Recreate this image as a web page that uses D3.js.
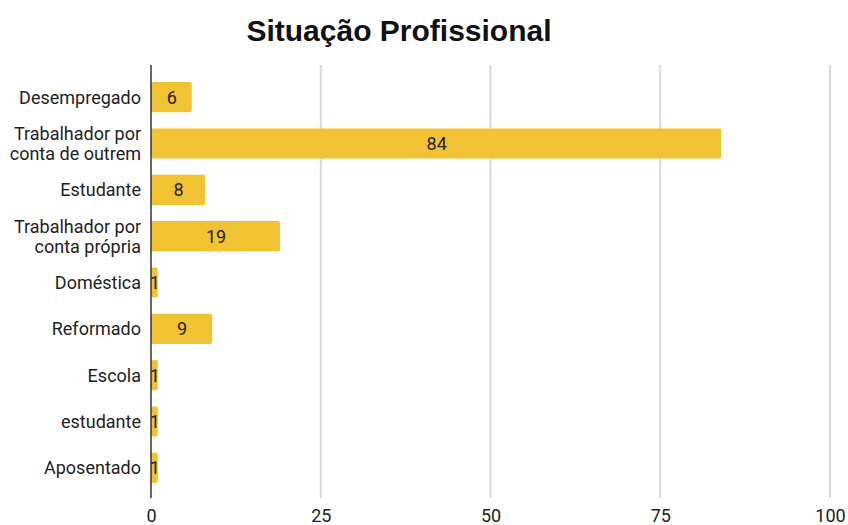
<!DOCTYPE html>
<html>
<head>
<meta charset="utf-8">
<script src="https://cdn.jsdelivr.net/npm/d3@7"></script>
<style>
  body { margin: 0; background: #fff; }
  text { font-family: Roboto, "Liberation Sans", sans-serif; }
</style>
</head>
<body>
<svg id="chart" width="848" height="525"></svg>
<script>
const categories = [
    ["Desempregado"],
    ["Trabalhador por", "conta de outrem"],
    ["Estudante"],
    ["Trabalhador por", "conta própria"],
    ["Doméstica"],
    ["Reformado"],
    ["Escola"],
    ["estudante"],
    ["Aposentado"]
];
const values = [6, 84, 8, 19, 1, 9, 1, 1, 1];
const xTicks = [0, 25, 50, 75, 100];

const svg = d3.select("#chart");
const keys = categories.map(c => c.join(" "));

const x = d3.scaleLinear().domain([0, 100]).range([151, 830]);
const y = d3.scaleBand().domain(keys).range([74, 491]).paddingInner(0.35).paddingOuter(0.175);

svg.append("text")
    .attr("x", 399).attr("y", 41)
    .attr("text-anchor", "middle")
    .style("font-family", "'Liberation Sans', Arial, sans-serif")
    .style("font-weight", "bold")
    .style("font-size", "30px")
    .style("fill", "#111")
    .text("Situação Profissional");

// linhas de grelha
svg.append("g").selectAll("line")
    .data(xTicks.filter(t => t > 0))
    .enter().append("line")
        .attr("x1", d => x(d)).attr("x2", d => x(d))
        .attr("y1", 65).attr("y2", 498)
        .attr("stroke", "#d9d9d9")
        .attr("stroke-width", 2);

const xAxis = d3.axisBottom(x).tickValues(xTicks).tickSize(0).tickPadding(11);
svg.append("g")
    .attr("transform", "translate(0,498)")
    .call(xAxis)
    .call(g => g.select(".domain").remove())
    .selectAll("text")
        .style("font-size", "18px")
        .style("fill", "#222")
        .style("font-family", "Roboto, sans-serif");

// barras
svg.append("g").selectAll("rect")
    .data(values)
    .enter().append("rect")
        .attr("x", x(0))
        .attr("y", (d, i) => y(keys[i]))
        .attr("width", d => x(d) - x(0))
        .attr("height", y.bandwidth())
        .attr("rx", 2)
        .attr("fill", "#f1c232");

// eixo vertical
svg.append("line")
    .attr("x1", x(0)).attr("x2", x(0))
    .attr("y1", 65).attr("y2", 498)
    .attr("stroke", "#333")
    .attr("stroke-width", 1.5);

// valores
svg.append("g").selectAll("text")
    .data(values)
    .enter().append("text")
        .attr("x", d => (x(0) + x(d)) / 2 + 0.5)
        .attr("y", (d, i) => y(keys[i]) + y.bandwidth() / 2)
        .attr("dy", "0.36em")
        .attr("text-anchor", "middle")
        .style("font-size", "18px")
        .style("fill", "#222")
        .text(d => d);

// categorias
const labels = svg.append("g").selectAll("text")
    .data(categories)
    .enter().append("text")
        .attr("text-anchor", "end")
        .attr("y", (d, i) => y(keys[i]) + y.bandwidth() / 2)
        .style("font-size", "18px")
        .style("fill", "#222");

labels.selectAll("tspan")
    .data(d => d.map((line, j) => ({ line, j, n: d.length })))
    .enter().append("tspan")
        .attr("x", 141)
        .attr("dy", d => d.j === 0 ? (0.36 - (d.n - 1) * 0.55) + "em" : "1.1em")
        .text(d => d.line);
</script>
</body>
</html>
